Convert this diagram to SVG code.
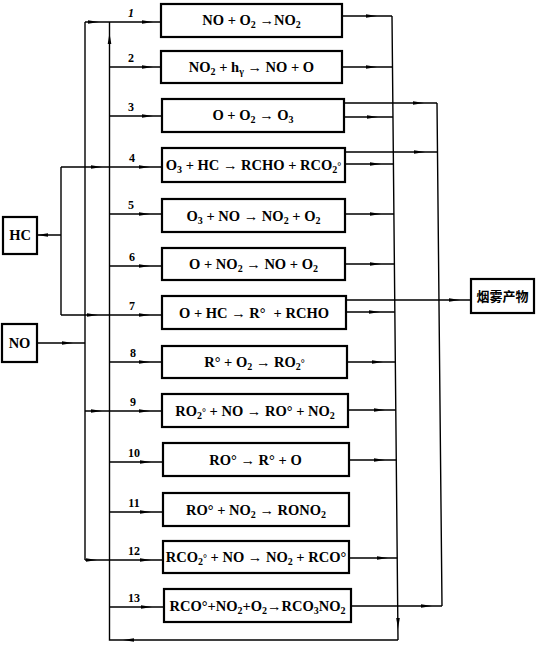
<svg xmlns="http://www.w3.org/2000/svg" xmlns:xlink="http://www.w3.org/1999/xlink" width="539" height="645" viewBox="0 0 539 645">
<style>
.bx{fill:#fff;stroke:#000;stroke-width:2.2}
.ln{fill:none;stroke:#000;stroke-width:1.4}
.t{font-family:"Liberation Serif",serif;font-size:14.5px;font-weight:bold;text-anchor:middle;fill:#000}
.s{font-size:10px}
.n{font-family:"Liberation Serif",serif;font-size:12px;font-weight:bold;text-anchor:middle;fill:#000}
.cj{font-family:"Noto Sans CJK SC",sans-serif;font-size:13px;font-weight:bold;text-anchor:middle;fill:#000}
</style>
<defs>
<path id="a" d="M-10,-1.8 L1,0 L-10,1.8 Z" fill="#000"/>
</defs>
<rect width="539" height="645" fill="#fff"/>
<g id="connectors">
<path class="ln" d="M85,22V560M109.5,22V640H398M392,16L398,640M437,103L442,606"/>
<path class="ln" d="M85,22H161M109.5,67H161M109.5,116H162M61,167H162M109.5,214H162M109.5,266H162M61,315H162M109.5,362H162M85,411H162M109.5,462H163M109.5,512H163M85,560H163M109.5,607H164"/>
<path class="ln" d="M37,235H61M61,167V315M37,343H85"/>
<path class="ln" d="M342,16H392M342,67H392.5M344,103H437M344,117H393M345,152H437.5M345,164H393.4M345,214H394M345,264H394.4M346,300H471M346,312H394.8M347,362H395.3M348,410H395.8M349,460H396.3M349,558H397.2M351,606H442"/>
<use xlink:href="#a" transform="translate(152,22)"/>
<use xlink:href="#a" transform="translate(98,22)"/>
<use xlink:href="#a" transform="translate(152,67)"/>
<use xlink:href="#a" transform="translate(152,116)"/>
<use xlink:href="#a" transform="translate(149,167)"/>
<use xlink:href="#a" transform="translate(101,167)"/>
<use xlink:href="#a" transform="translate(149,214)"/>
<use xlink:href="#a" transform="translate(149,266)"/>
<use xlink:href="#a" transform="translate(149,315)"/>
<use xlink:href="#a" transform="translate(97,315)"/>
<use xlink:href="#a" transform="translate(149,362)"/>
<use xlink:href="#a" transform="translate(149,411)"/>
<use xlink:href="#a" transform="translate(101,411)"/>
<use xlink:href="#a" transform="translate(150,462)"/>
<use xlink:href="#a" transform="translate(150,512)"/>
<use xlink:href="#a" transform="translate(150,560)"/>
<use xlink:href="#a" transform="translate(96,560)"/>
<use xlink:href="#a" transform="translate(151,607)"/>
<use xlink:href="#a" transform="translate(72,343)"/>
<use xlink:href="#a" transform="translate(38,235) rotate(180)"/>
<use xlink:href="#a" transform="translate(109.5,34) rotate(-90)"/>
<use xlink:href="#a" transform="translate(124,640) rotate(180)"/>
<use xlink:href="#a" transform="translate(398,628) rotate(90)"/>
<use xlink:href="#a" transform="translate(376,16)"/>
<use xlink:href="#a" transform="translate(376,67)"/>
<use xlink:href="#a" transform="translate(423,103)"/>
<use xlink:href="#a" transform="translate(377,117)"/>
<use xlink:href="#a" transform="translate(424,152)"/>
<use xlink:href="#a" transform="translate(380,164)"/>
<use xlink:href="#a" transform="translate(380,214)"/>
<use xlink:href="#a" transform="translate(380,264)"/>
<use xlink:href="#a" transform="translate(459,300)"/>
<use xlink:href="#a" transform="translate(379,312)"/>
<use xlink:href="#a" transform="translate(382,362)"/>
<use xlink:href="#a" transform="translate(384,410)"/>
<use xlink:href="#a" transform="translate(384,460)"/>
<use xlink:href="#a" transform="translate(387,558)"/>
<use xlink:href="#a" transform="translate(431,606)"/>
</g>
<g id="labels">
<text class="n" x="131" y="17" font-style="italic">1</text>
<text class="n" x="131" y="62">2</text>
<text class="n" x="131" y="111">3</text>
<text class="n" x="132" y="162">4</text>
<text class="n" x="131" y="209">5</text>
<text class="n" x="132" y="261">6</text>
<text class="n" x="132" y="310">7</text>
<text class="n" x="133" y="357">8</text>
<text class="n" x="133" y="406">9</text>
<text class="n" x="134" y="457">10</text>
<text class="n" x="134" y="507">11</text>
<text class="n" x="134" y="555">12</text>
<text class="n" x="134" y="602">13</text>
</g>
<g id="hc"><rect class="bx" x="3" y="217" width="34" height="37"/><text class="t" x="20" y="240">HC</text></g>
<g id="no"><rect class="bx" x="2" y="324" width="35" height="38"/><text class="t" x="19.5" y="348">NO</text></g>
<g id="smog"><rect class="bx" x="471" y="279" width="63" height="34"/><text class="cj" x="502.5" y="301">烟雾产物</text></g>
<g id="r1"><rect class="bx" x="161" y="4" width="181" height="33"/><text class="t" x="251.5" y="25">NO + O<tspan class="s" dy="3">2</tspan><tspan dy="-3"> →NO</tspan><tspan class="s" dy="3">2</tspan></text></g>
<g id="r2"><rect class="bx" x="161" y="51" width="181" height="32"/><text class="t" x="251.5" y="72">NO<tspan class="s" dy="3">2</tspan><tspan dy="-3"> + h</tspan><tspan class="s" dy="3">γ</tspan><tspan dy="-3"> → NO + O</tspan></text></g>
<g id="r3"><rect class="bx" x="162" y="99" width="182" height="33"/><text class="t" x="253" y="120">O + O<tspan class="s" dy="3">2</tspan><tspan dy="-3"> → O</tspan><tspan class="s" dy="3">3</tspan></text></g>
<g id="r4"><rect class="bx" x="162" y="148" width="183" height="34"/><text class="t" x="253.5" y="170">O<tspan class="s" dy="3">3</tspan><tspan dy="-3"> + HC → RCHO + RCO</tspan><tspan class="s" dy="3">2</tspan><tspan class="s" dy="-3">°</tspan></text></g>
<g id="r5"><rect class="bx" x="162" y="199" width="183" height="33"/><text class="t" x="253.5" y="220.5">O<tspan class="s" dy="3">3</tspan><tspan dy="-3"> + NO → NO</tspan><tspan class="s" dy="3">2</tspan><tspan dy="-3"> + O</tspan><tspan class="s" dy="3">2</tspan></text></g>
<g id="r6"><rect class="bx" x="162" y="248" width="183" height="32"/><text class="t" x="253.5" y="269">O + NO<tspan class="s" dy="3">2</tspan><tspan dy="-3"> → NO + O</tspan><tspan class="s" dy="3">2</tspan></text></g>
<g id="r7"><rect class="bx" x="162" y="296" width="184" height="33"/><text class="t" x="254" y="317.5">O + HC → R°<tspan dx="8">+ RCHO</tspan></text></g>
<g id="r8"><rect class="bx" x="162" y="346" width="185" height="32"/><text class="t" x="254.5" y="367">R° + O<tspan class="s" dy="3">2</tspan><tspan dy="-3"> → RO</tspan><tspan class="s" dy="3">2</tspan><tspan class="s" dy="-3">°</tspan></text></g>
<g id="r9"><rect class="bx" x="162" y="394" width="186" height="33"/><text class="t" x="255" y="415.5">RO<tspan class="s" dy="3">2</tspan><tspan class="s" dy="-3">°</tspan><tspan> + NO → RO° + NO</tspan><tspan class="s" dy="3">2</tspan></text></g>
<g id="r10"><rect class="bx" x="163" y="443" width="186" height="33"/><text class="t" x="255.5" y="464.5">RO° → R° + O</text></g>
<g id="r11"><rect class="bx" x="163" y="493" width="186" height="33"/><text class="t" x="256" y="514.5">RO° + NO<tspan class="s" dy="3">2</tspan><tspan dy="-3"> → RONO</tspan><tspan class="s" dy="3">2</tspan></text></g>
<g id="r12"><rect class="bx" x="163" y="541" width="186" height="32"/><text class="t" x="256" y="562">RCO<tspan class="s" dy="3">2</tspan><tspan class="s" dy="-3">°</tspan><tspan> + NO → NO</tspan><tspan class="s" dy="3">2</tspan><tspan dy="-3"> + RCO°</tspan></text></g>
<g id="r13"><rect class="bx" x="164" y="589" width="187" height="33"/><text class="t" x="257.5" y="610.5">RCO°+NO<tspan class="s" dy="3">2</tspan><tspan dy="-3">+O</tspan><tspan class="s" dy="3">2</tspan><tspan dy="-3">→RCO</tspan><tspan class="s" dy="3">3</tspan><tspan dy="-3">NO</tspan><tspan class="s" dy="3">2</tspan></text></g>
</svg>
